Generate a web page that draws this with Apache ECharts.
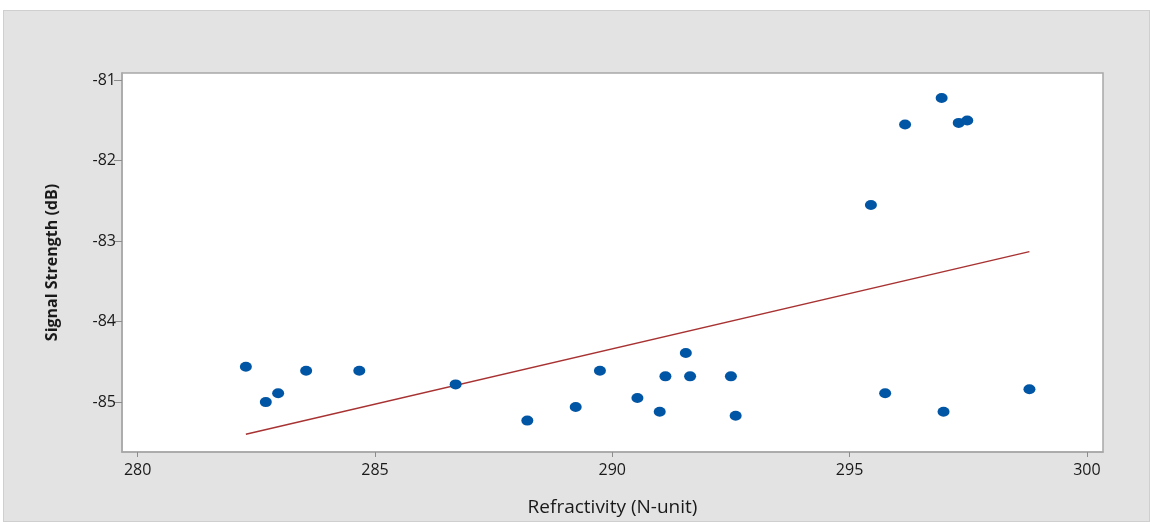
<!DOCTYPE html>
<html>
<head>
<meta charset="utf-8">
<script src="https://cdn.jsdelivr.net/npm/echarts@6/dist/echarts.min.js"></script>
<style>
  html, body { margin: 0; padding: 0; background: #fff; overflow: hidden; }
  .panel {
    position: absolute; left: 3px; top: 10px; width: 1145px; height: 510px;
    background: #e3e3e3; border: 1px solid #cfcfcf;
  }
  #chart { position: absolute; left: 0; top: 0; width: 1150px; height: 522px; }
</style>
</head>
<body>
<div class="panel"></div>
<div id="chart"></div>
<script>
// refractivity (N-unit) vs signal strength (dB)
const refractivity = [
  282.28, 282.70, 282.96, 283.55, 284.67, 286.70,
  288.21, 289.23, 289.74, 290.53, 291.00, 291.12,
  291.55, 291.64, 292.50, 292.60, 295.45, 295.75,
  296.17, 296.94, 296.98, 297.30, 297.48, 298.79
]
const signalStrength = [
  -84.56, -85.00, -84.89, -84.61, -84.61, -84.78,
  -85.23, -85.06, -84.61, -84.95, -85.12, -84.68,
  -84.39, -84.68, -84.68, -85.17, -82.55, -84.89,
  -81.55, -81.22, -85.12, -81.53, -81.50, -84.84
]
// fitted line end points
const fitX = [282.28, 298.79]
const fitY = [-85.40, -83.13]

const xTicks = [280, 285, 290, 295, 300]
const yTicks = [-85, -84, -83, -82, -81]

const points = refractivity.map((x, i) => [x, signalStrength[i]])
const fitLine = fitX.map((x, i) => [x, fitY[i]])

const chart = echarts.init(document.getElementById('chart'))
chart.setOption({
  backgroundColor: 'transparent',
  animation: false,
  textStyle: {fontFamily: 'Open Sans'},
  grid: {
    left: 122, right: 47, top: 73, bottom: 64,
    show: true, backgroundColor: '#fff',
    borderColor: '#a8a8a8', borderWidth: 1.5
  },
  xAxis: {
    type: 'value',
    min: 279.67, max: 300.34,
    name: 'Refractivity (N-unit)',
    nameLocation: 'middle',
    nameGap: 46,
    nameTextStyle: {fontSize: 19, color: '#1a1a1a'},
    axisLine: {show: true, lineStyle: {color: '#a8a8a8', width: 1.5}},
    axisTick: {show: true, length: 5, customValues: xTicks, lineStyle: {color: '#8c8c8c'}},
    axisLabel: {customValues: xTicks, fontSize: 16, color: '#1a1a1a', margin: 10},
    splitLine: {show: false}
  },
  yAxis: {
    type: 'value',
    min: -85.62, max: -80.91,
    name: 'Signal Strength (dB)',
    nameLocation: 'middle',
    nameGap: 62,
    nameTextStyle: {fontSize: 16, fontWeight: 'bold', color: '#1a1a1a'},
    axisLine: {show: true, lineStyle: {color: '#a8a8a8', width: 1.5}},
    axisTick: {show: true, length: 8, customValues: yTicks, lineStyle: {color: '#8c8c8c'}},
    axisLabel: {customValues: yTicks, fontSize: 16, color: '#1a1a1a', margin: 6},
    splitLine: {show: false}
  },
  series: [
    {
      type: 'line',
      data: fitLine,
      symbol: 'none',
      lineStyle: {color: '#a83232', width: 1.5},
      z: 2
    },
    {
      type: 'scatter',
      data: points,
      symbol: 'circle',
      symbolSize: [12, 10],
      itemStyle: {color: '#0055a4', opacity: 1},
      z: 3
    }
  ]
})
</script>
</body>
</html>
